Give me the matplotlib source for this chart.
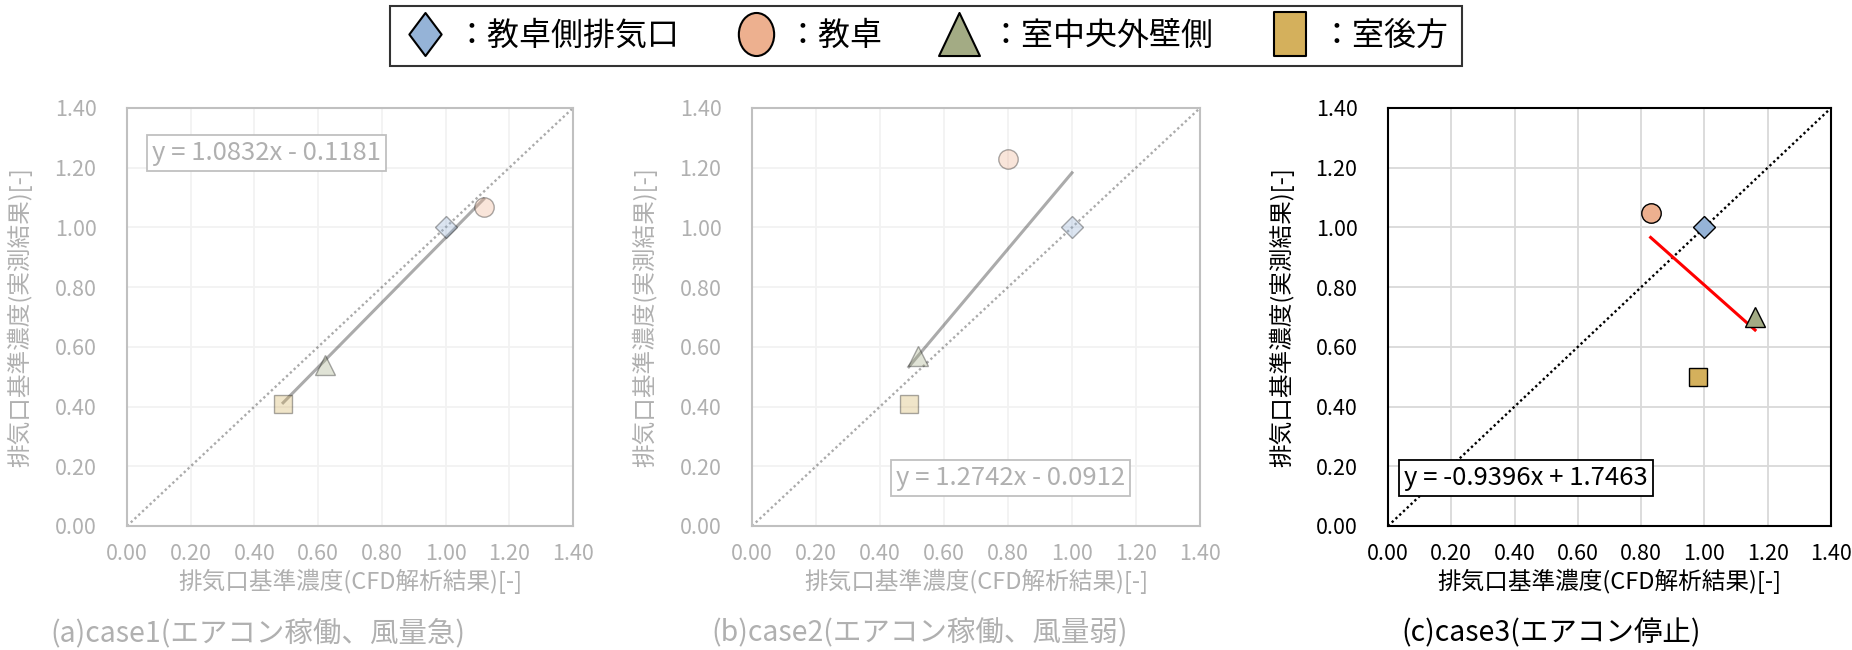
import matplotlib
matplotlib.use('Agg')
import matplotlib.pyplot as plt
from matplotlib.lines import Line2D
from matplotlib.path import Path
import numpy as np

plt.rcParams['font.family'] = ['Noto Sans CJK JP', 'DejaVu Sans']

# 測定点
names = ['教卓側排気口', '教卓', '室中央外壁側', '室後方']
markers = ['D', 'o', '^', 's']
colors = ['#95B3D7', '#EDB08F', '#A3AB84', '#D4B05C']
msizes = [11.5, 14, 15, 12.5]

# x: CFD解析結果, y: 実測結果
cfd_case1 = [1.00, 1.12, 0.62, 0.49]
meas_case1 = [1.00, 1.07, 0.54, 0.41]
cfd_case2 = [1.00, 0.80, 0.52, 0.49]
meas_case2 = [1.00, 1.23, 0.57, 0.41]
cfd_case3 = [1.00, 0.83, 1.16, 0.98]
meas_case3 = [1.00, 1.05, 0.70, 0.50]

# 近似直線
slopes = [1.0832, 1.2742, -0.9396]
intercepts = [-0.1181, -0.0912, 1.7463]

captions = ['(a)case1(エアコン稼働、風量急)',
            '(b)case2(エアコン稼働、風量弱)',
            '(c)case3(エアコン停止)']
ticks = [0.0, 0.2, 0.4, 0.6, 0.8, 1.0, 1.2, 1.4]

fig = plt.figure(figsize=(18.52, 6.5), dpi=100)

panels = [
    dict(x=cfd_case1, y=meas_case1, rect=[127/1852, 124/650, 446/1852, 418/650],
         faded=True, eq_pos=(0.08, 1.25), line_color='black', cap_x=258/1852),
    dict(x=cfd_case2, y=meas_case2, rect=[752/1852, 124/650, 448/1852, 418/650],
         faded=True, eq_pos=(0.45, 0.16), line_color='black', cap_x=920/1852),
    dict(x=cfd_case3, y=meas_case3, rect=[1388/1852, 124/650, 443/1852, 418/650],
         faded=False, eq_pos=(0.05, 0.16), line_color='red', cap_x=1551/1852),
]

for i, p in enumerate(panels):
    ax = fig.add_axes(p['rect'])
    a = 0.33 if p['faded'] else 1.0
    txt_c = '#b0b0b0' if p['faded'] else 'black'
    spine_c = '#c0c0c0' if p['faded'] else 'black'
    grid_c = '#f2f2f2' if p['faded'] else '#d9d9d9'

    ax.set_xlim(0, 1.4)
    ax.set_ylim(0, 1.4)
    ax.set_xticks(ticks)
    ax.set_yticks(ticks)
    ax.set_xticklabels(['%.2f' % t for t in ticks])
    ax.set_yticklabels(['%.2f' % t for t in ticks])
    ax.tick_params(length=0, labelsize=15.5, colors=txt_c)
    ax.tick_params(axis='y', pad=22)
    ax.tick_params(axis='x', pad=12)
    ax.grid(True, color=grid_c, lw=1.3)
    ax.set_axisbelow(True)
    for s in ax.spines.values():
        s.set_color(spine_c)
        s.set_linewidth(1.5)

    # y = x
    ax.axline((0, 0), slope=1, color='black', alpha=a, ls=(0, (1, 1.2)), lw=1.7, zorder=2)

    # 近似直線
    xs = np.array([min(p['x']), max(p['x'])])
    ax.plot(xs, slopes[i] * xs + intercepts[i], color=p['line_color'], alpha=a,
            lw=2.2, zorder=3)

    for j in range(4):
        ax.plot(p['x'][j], p['y'][j], marker=markers[j], ms=msizes[j], mfc=colors[j],
                mec='black', mew=1.0, ls='none', alpha=a, zorder=4)

    sign = '-' if intercepts[i] < 0 else '+'
    eq = 'y = %.4fx %s %.4f' % (slopes[i], sign, abs(intercepts[i]))
    ax.text(p['eq_pos'][0], p['eq_pos'][1], eq, fontsize=18.5, color=txt_c, va='center',
            ha='left', zorder=5,
            bbox=dict(boxstyle='square,pad=0.2', fc='white', ec=spine_c, lw=1.3))

    ax.set_xlabel('排気口基準濃度(CFD解析結果)[-]', fontsize=17, color=txt_c, va='center')
    ax.set_ylabel('排気口基準濃度(実測結果)[-]', fontsize=17, color=txt_c, va='center')
    ax.xaxis.set_label_coords(0.5, -0.132)
    ax.yaxis.set_label_coords(-0.24, 0.5)

    fig.text(p['cap_x'], 0.026, captions[i], fontsize=20.5, color=txt_c, ha='center', va='center')

# 凡例用の縦長マーカー
def shape(verts):
    return Path(np.array(verts + [verts[0]]), closed=True)

circ = Path.unit_circle()
leg_markers = [
    shape([(0, 1), (0.75, 0), (0, -1), (-0.75, 0)]),
    Path(circ.vertices * [0.82, 1.0], circ.codes),
    shape([(0, 1), (0.95, -1), (-0.95, -1)]),
    shape([(-0.75, 1), (0.75, 1), (0.75, -1), (-0.75, -1)]),
]
handles = [Line2D([], [], marker=leg_markers[j], ms=31, mfc=colors[j], mec='black',
                  mew=1.5, ls='none') for j in range(4)]
labels = ['：' + n for n in names]
leg = fig.legend(handles, labels, loc='center', bbox_to_anchor=(0.5, 1 - 36/650),
                 ncol=4, fontsize=23, frameon=True, fancybox=False,
                 handlelength=1.3, handletextpad=0.3, columnspacing=1.75,
                 borderpad=0.45)
leg.get_frame().set_edgecolor('black')
leg.get_frame().set_linewidth(1.5)

fig.savefig('out.png', dpi=100)
